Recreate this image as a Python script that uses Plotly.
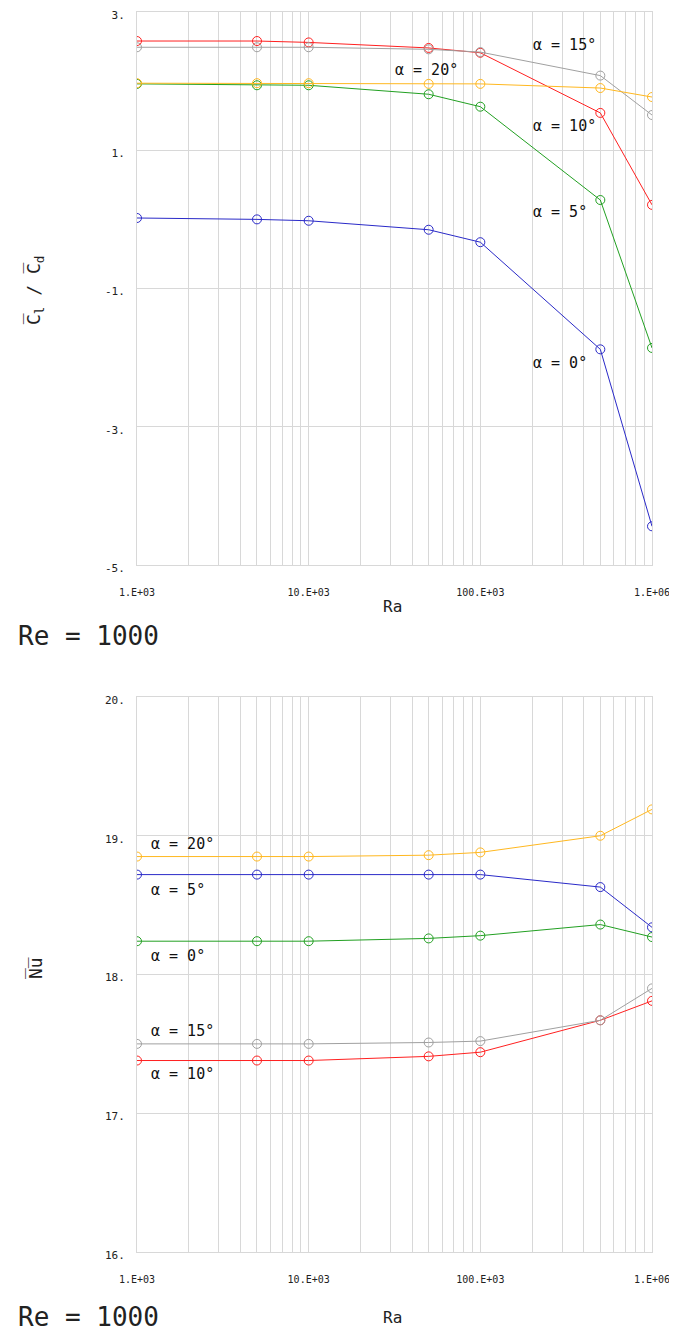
import plotly.graph_objects as go

RA = [1e3, 5e3, 1e4, 5e4, 1e5, 5e5, 1e6]
BLUE, GREEN, RED, GRAY, ORANGE = "#2a2ac8", "#22a022", "#ff2020", "#a0a0a0", "#ffb820"

# mean lift / drag ratio
clcd_a0 = [0.02, 0.0, -0.02, -0.15, -0.33, -1.88, -4.44]
clcd_a5 = [1.96, 1.94, 1.94, 1.81, 1.63, 0.28, -1.86]
clcd_a10 = [2.58, 2.58, 2.56, 2.48, 2.41, 1.54, 0.21]
clcd_a15 = [2.49, 2.49, 2.49, 2.46, 2.42, 2.08, 1.51]
clcd_a20 = [1.97, 1.97, 1.97, 1.96, 1.96, 1.90, 1.77]

# mean Nusselt number
nu_a0 = [18.24, 18.24, 18.24, 18.26, 18.28, 18.36, 18.27]
nu_a5 = [18.72, 18.72, 18.72, 18.72, 18.72, 18.63, 18.34]
nu_a10 = [17.38, 17.38, 17.38, 17.41, 17.44, 17.67, 17.81]
nu_a15 = [17.50, 17.50, 17.50, 17.51, 17.52, 17.67, 17.90]
nu_a20 = [18.85, 18.85, 18.85, 18.86, 18.88, 19.00, 19.19]

XTICKS = [1e3, 1e4, 1e5, 1e6]
XTICK_TEXT = ["1.E+03", "10.E+03", "100.E+03", "1.E+06"]
Y1_TICKS = [-5, -3, -1, 1, 3]
Y2_TICKS = [16, 17, 18, 19, 20]

MONO = "DejaVu Sans Mono"
GRID = "#d8d8d8"
# page body keeps its 8px margin, so the figure is 16px smaller than the window
W, H = 661, 1327


def px(x):
    return (x - 8) / W


def py(y):
    return 1 - (y - 8) / H


fig = go.Figure()


def add_line(y, color, xa, ya):
    fig.add_trace(go.Scatter(
        x=RA, y=y, xaxis=xa, yaxis=ya, mode="lines+markers",
        line=dict(color=color, width=1),
        marker=dict(symbol="circle-open", size=9, color=color, line=dict(width=1)),
        showlegend=False))


for y, c in [(clcd_a0, BLUE), (clcd_a5, GREEN), (clcd_a10, RED),
             (clcd_a15, GRAY), (clcd_a20, ORANGE)]:
    add_line(y, c, "x", "y")
for y, c in [(nu_a0, GREEN), (nu_a5, BLUE), (nu_a10, RED),
             (nu_a15, GRAY), (nu_a20, ORANGE)]:
    add_line(y, c, "x2", "y2")

# minor vertical grid lines at 2..9 of each decade
minor_vals = [m * 10 ** d for d in range(3, 6) for m in range(2, 10)]

common = dict(showgrid=True, gridcolor=GRID, gridwidth=1, automargin=False,
              zeroline=False, showline=True, mirror=True, linecolor=GRID, linewidth=1,
              ticks="", ticklabeloverflow="allow")
xax = dict(type="log", range=[3, 6], tickvals=XTICKS, ticktext=XTICK_TEXT,
           minor=dict(tickvals=minor_vals, showgrid=True, gridcolor=GRID, gridwidth=1),
           ticklabelstandoff=18, tickfont=dict(family=MONO, size=10, color="#222"), **common)
yax = dict(ticklabelstandoff=9, ticklabelshift=3,
           tickfont=dict(family=MONO, size=11, color="#222"), **common)

fig.update_layout(
    width=W, height=H,
    margin=dict(l=0, r=0, t=0, b=0),
    plot_bgcolor="white", paper_bgcolor="white",
    xaxis=dict(domain=[px(137), px(652)], anchor="y", **xax),
    yaxis=dict(domain=[py(565), py(12)], anchor="x", range=[-5, 3],
               tickvals=Y1_TICKS, ticktext=[f"{v}." for v in Y1_TICKS], **yax),
    xaxis2=dict(domain=[px(137), px(652)], anchor="y2", **xax),
    yaxis2=dict(domain=[py(1252), py(697)], anchor="x2", range=[16, 20],
                tickvals=Y2_TICKS, ticktext=[f"{v}." for v in Y2_TICKS], **yax),
)

lab = dict(showarrow=False, xanchor="left", yanchor="middle",
           font=dict(family=MONO, size=15, color="#111"))
top_labels = [("α = 15°", 5.295, 2.52), ("α = 20°", 4.49, 2.16), ("α = 10°", 5.295, 1.35),
              ("α = 5°", 5.295, 0.11), ("α = 0°", 5.295, -2.08)]
for t, x, y in top_labels:
    fig.add_annotation(text=t, x=x, y=y, xref="x", yref="y", **lab)
bot_labels = [("α = 20°", 18.94), ("α = 5°", 18.61), ("α = 0°", 18.13),
              ("α = 15°", 17.59), ("α = 10°", 17.28)]
for t, y in bot_labels:
    fig.add_annotation(text=t, x=3.07, y=y, xref="x2", yref="y2", **lab)

big = dict(showarrow=False, xref="paper", yref="paper", xanchor="left", yanchor="middle",
           font=dict(family=MONO, size=26, color="#222"))
fig.add_annotation(text="Re = 1000", x=px(16), y=py(636), **big)
fig.add_annotation(text="Re = 1000", x=px(16), y=py(1317), **big)

ra_lab = dict(showarrow=False, xref="paper", yref="paper", xanchor="center", yanchor="middle",
              font=dict(family=MONO, size=16, color="#222"))
fig.add_annotation(text="Ra", x=px(392), y=py(606), **ra_lab)
fig.add_annotation(text="Ra", x=px(392), y=py(1317), **ra_lab)

ytl = dict(showarrow=False, xref="paper", yref="paper", xanchor="center", yanchor="middle",
           textangle=-90, font=dict(family=MONO, size=18, color="#222"))
fig.add_annotation(text="C\u0305<sub>l</sub> / C\u0305<sub>d</sub>", x=px(35), y=py(290), **ytl)
fig.add_annotation(text="N\u0305u\u0305", x=px(35), y=py(968), **ytl)

fig.write_html("out.html")
